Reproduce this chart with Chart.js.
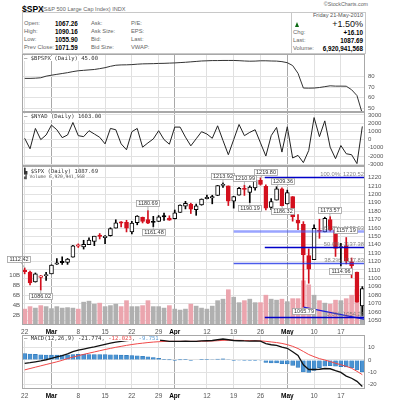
<!DOCTYPE html>
<html><head><meta charset="utf-8">
<script src="https://cdn.jsdelivr.net/npm/chart.js@4.4.1/dist/chart.umd.min.js"></script>
<style>
html,body{margin:0;padding:0;background:#fff}
body{width:393px;height:400px;position:relative;overflow:hidden;font-family:"Liberation Sans",Arial,sans-serif}
.pn{position:absolute;left:0;width:393px}
.tx{position:absolute;white-space:nowrap;line-height:1}
.lb{font-size:5.8px;color:#666}
.vb{font-size:6.3px;color:#000;font-weight:bold}
.lg{position:absolute;white-space:nowrap;line-height:1;font-family:"DejaVu Sans Mono",monospace;font-size:5.6px;color:#333;background:#fff;padding:0 1px;z-index:5}
</style></head><body>

<div class="tx" style="left:22px;top:5.3px;font-size:8.5px;font-weight:bold;color:#000">$SPX</div>
<div class="tx" style="left:42px;top:7.2px;font-size:5.6px;color:#666">(S&amp;P 500 Large Cap Index) INDX</div>
<div class="tx" style="right:25px;top:2.1px;font-size:5.3px;color:#666">©StockCharts.com</div>
<div style="position:absolute;left:22px;top:12px;width:344px;height:42px;border:1px solid #c8c8c8;box-sizing:border-box"></div>
<div style="position:absolute;left:291px;top:12px;width:1px;height:42px;background:#c8c8c8"></div>

<div class="tx lb" style="left:24px;top:20.8px">Open:</div>
<div class="tx lb" style="left:24px;top:29px">High:</div>
<div class="tx lb" style="left:24px;top:37px">Low:</div>
<div class="tx lb" style="left:24px;top:45.1px">Prev Close:</div>
<div class="tx vb" style="left:55px;top:20.5px">1067.26</div>
<div class="tx vb" style="left:55px;top:28.7px">1090.16</div>
<div class="tx vb" style="left:55px;top:36.7px">1055.90</div>
<div class="tx vb" style="left:55px;top:44.8px">1071.59</div>
<div class="tx lb" style="left:91px;top:20.8px">Ask:</div>
<div class="tx lb" style="left:91px;top:29px">Ask Size:</div>
<div class="tx lb" style="left:91px;top:37px">Bid:</div>
<div class="tx lb" style="left:91px;top:45.1px">Bid Size:</div>
<div class="tx lb" style="left:131px;top:20.8px">P/E:</div>
<div class="tx lb" style="left:131px;top:29px">EPS:</div>
<div class="tx lb" style="left:131px;top:37px">Last:</div>
<div class="tx lb" style="left:131px;top:45.1px">VWAP:</div>

<div class="tx" style="right:30px;top:12.6px;font-size:5.6px;color:#555">Friday 21-May-2010</div>
<div style="position:absolute;left:295px;top:21.5px;width:0;height:0;border-left:2.6px solid transparent;border-right:2.6px solid transparent;border-bottom:5px solid #0b6a12"></div>
<div class="tx" style="right:30px;top:19.5px;font-size:9px;color:#111">+1.50%</div>
<div class="tx lb" style="left:293px;top:29.8px">Chg:</div>
<div class="tx vb" style="right:30px;top:29.5px">+16.10</div>
<div class="tx lb" style="left:293px;top:37.8px">Last:</div>
<div class="tx vb" style="right:30px;top:37.5px">1087.69</div>
<div class="tx lb" style="left:293px;top:46.3px">Volume:</div>
<div class="tx vb" style="right:30px;top:46px">6,920,941,568</div>

<div class="pn" style="top:54px;height:58px"><canvas id="c1"></canvas></div>
<div class="pn" style="top:112px;height:54px"><canvas id="c2"></canvas></div>
<div class="pn" style="top:166px;height:170px"><canvas id="c3"></canvas></div>
<div class="pn" style="top:335px;height:65px"><canvas id="c4"></canvas></div>

<div class="lg" style="left:23px;top:55.5px">— $BPSPX (Daily) 45.00</div>
<div class="lg" style="left:23px;top:114.3px">— $NYAD (Daily) 1603.00</div>
<div class="lg" style="left:23px;top:168.6px">▙ $SPX (Daily) 1087.69</div>
<div class="lg" style="left:23px;top:175px;font-size:4.6px;color:#555">▟ Volume 6,920,941,568</div>
<div class="lg" style="left:23px;top:335.6px">— MACD(12,26,9) -21.774, <span style="color:#e84545">-12.023</span>, <span style="color:#5b9bd5">-9.751</span></div>

<script>
// ---------------- DATA ----------------
const dates = ['2010-02-22','2010-02-23','2010-02-24','2010-02-25','2010-02-26',
'2010-03-01','2010-03-02','2010-03-03','2010-03-04','2010-03-05',
'2010-03-08','2010-03-09','2010-03-10','2010-03-11','2010-03-12',
'2010-03-15','2010-03-16','2010-03-17','2010-03-18','2010-03-19',
'2010-03-22','2010-03-23','2010-03-24','2010-03-25','2010-03-26',
'2010-03-29','2010-03-30','2010-03-31','2010-04-01',
'2010-04-05','2010-04-06','2010-04-07','2010-04-08','2010-04-09',
'2010-04-12','2010-04-13','2010-04-14','2010-04-15','2010-04-16',
'2010-04-19','2010-04-20','2010-04-21','2010-04-22','2010-04-23',
'2010-04-26','2010-04-27','2010-04-28','2010-04-29','2010-04-30',
'2010-05-03','2010-05-04','2010-05-05','2010-05-06','2010-05-07',
'2010-05-10','2010-05-11','2010-05-12','2010-05-13','2010-05-14',
'2010-05-17','2010-05-18','2010-05-19','2010-05-20','2010-05-21'];

const open  = [1110.00,1107.49,1095.89,1101.24,1103.10,1105.36,1117.01,1119.36,1119.12,1125.12,
1138.40,1137.56,1140.22,1143.96,1151.71,1148.53,1150.83,1159.94,1166.13,1166.68,
1155.35,1166.47,1172.70,1170.03,1167.58,1167.71,1173.75,1171.75,1171.23,1178.71,
1186.01,1188.23,1181.75,1187.47,1194.94,1195.94,1198.69,1210.77,1210.17,1192.06,
1199.04,1207.16,1202.52,1207.87,1217.07,1209.72,1184.59,1193.30,1206.77,1188.58,
1197.50,1169.24,1164.38,1127.04,1122.27,1156.39,1155.43,1170.04,1157.19,1136.52,
1138.78,1119.57,1107.34,1067.26];
const high  = [1112.42,1108.58,1106.42,1103.50,1107.24,1116.11,1123.46,1125.64,1123.73,1139.38,
1141.05,1145.37,1148.26,1150.24,1153.41,1150.98,1160.28,1169.84,1167.77,1169.20,
1167.82,1174.72,1173.04,1180.69,1173.93,1174.85,1177.83,1174.56,1181.43,1187.73,
1191.80,1189.60,1188.55,1194.66,1199.20,1199.04,1210.65,1213.92,1210.17,1197.87,
1208.58,1210.99,1210.27,1217.28,1219.80,1211.38,1195.05,1209.36,1207.99,1205.13,
1197.50,1175.95,1167.58,1135.13,1163.85,1170.48,1172.87,1173.57,1157.19,1141.88,
1148.66,1124.27,1107.34,1090.16];
const low   = [1105.38,1092.18,1095.50,1086.02,1097.56,1105.36,1116.51,1116.58,1116.66,1125.12,
1136.77,1134.90,1140.09,1138.99,1146.97,1141.45,1150.35,1159.94,1161.16,1155.33,
1152.88,1163.83,1166.01,1165.09,1161.48,1167.71,1168.92,1169.15,1170.69,1178.71,
1182.77,1177.25,1175.12,1187.15,1194.71,1188.82,1198.69,1208.50,1186.77,1183.68,
1199.04,1198.85,1190.19,1205.10,1211.07,1181.62,1181.81,1193.30,1186.32,1188.58,
1168.12,1158.15,1065.79,1094.15,1122.27,1147.71,1155.43,1156.14,1126.14,1114.96,
1117.20,1100.66,1071.58,1055.90];
const close = [1108.01,1094.60,1105.24,1102.93,1104.49,1115.71,1118.31,1118.79,1122.97,1138.70,
1138.50,1140.45,1145.61,1150.24,1149.99,1150.51,1159.46,1166.21,1165.83,1159.90,
1165.81,1174.17,1167.72,1165.73,1166.59,1173.22,1173.27,1169.43,1178.10,1187.44,
1189.44,1182.45,1186.44,1194.37,1196.48,1197.30,1210.65,1211.67,1192.13,1197.52,
1207.17,1205.94,1208.67,1217.28,1212.05,1183.71,1191.36,1206.78,1186.69,1202.26,
1173.60,1165.87,1128.15,1110.88,1159.73,1155.79,1171.67,1157.44,1135.68,1136.94,
1120.80,1115.05,1071.59,1087.69];
// volume, billions of shares
const volumeB = [3.2,3.7,3.4,3.9,3.7,3.3,3.7,3.4,3.5,3.4,3.2,4.6,4.8,4.2,4.4,3.7,3.9,4.2,3.7,4.9,
3.7,3.7,3.9,4.9,3.7,3.7,3.4,3.9,3.2,3.0,3.2,4.2,3.8,3.4,3.2,3.8,4.9,5.2,7.1,5.6,
4.5,4.9,5.2,4.5,4.5,6.0,5.2,5.0,5.2,4.7,5.3,5.3,8.9,8.1,6.0,4.9,4.4,4.2,5.0,4.9,
5.3,6.0,7.1,6.92];
const bpspx = [78.2,78.2,78.4,78.8,80.3,81.2,82.0,82.8,83.6,84.6,85.4,85.8,86.2,86.6,87.4,88.3,
89.6,90.6,90.9,91.0,91.2,91.6,91.9,92.0,92.1,92.3,92.4,92.6,92.8,93.1,93.4,93.8,94.2,94.6,
94.8,95.0,95.0,95.1,95.1,95.1,94.9,94.6,94.4,94.5,94.8,94.8,94.6,94.5,94.0,93.0,90.3,83.0,
69.1,69.0,69.1,69.6,70.4,71.2,70.9,70.9,70.8,67.5,62.0,45.0];
const nyad = [160,-1120,1360,0,560,1760,1200,240,560,2080,480,360,1080,680,280,-520,1360,1200,
-520,-1240,960,1360,-920,-400,80,1080,0,-560,1520,1520,300,-760,100,960,680,160,1680,-100,
-1840,0,1840,480,880,1200,-400,-2000,480,1480,-1520,1560,-2240,-1920,-2800,-1320,2680,360,
2280,-920,-2320,-720,-1720,-1840,-2920,1603];
const macd = [-2.7,-2.2,-1.5,-0.8,0.2,1.4,2.5,3.6,5.0,6.8,8.0,9.0,10.0,10.8,11.8,12.8,13.8,14.6,
15.3,15.8,16.4,17.0,17.3,17.2,16.8,16.3,15.8,15.3,15.2,15.3,15.4,15.2,15.3,15.6,15.8,16.0,
16.6,17.2,16.6,16.0,15.8,15.6,15.5,15.6,15.4,13.4,12.5,12.0,10.6,9.6,6.8,3.8,-4.0,-7.8,-7.8,
-7.6,-7.0,-7.2,-8.8,-10.2,-13.2,-15.0,-17.5,-21.774];
const macdSignal = [-8.1,-7.0,-5.9,-4.8,-3.7,-2.6,-1.5,-0.3,1.2,2.4,3.5,4.6,5.6,6.6,7.6,8.6,9.5,
10.4,11.2,12.0,12.7,13.3,13.8,14.3,14.7,15.0,15.2,15.3,15.3,15.3,15.3,15.3,15.3,15.4,15.5,
15.6,15.8,16.1,16.2,16.2,16.1,16.0,15.9,15.8,15.7,15.3,14.8,14.3,13.6,12.6,11.2,9.4,7.0,4.5,
2.7,1.1,0.0,-1.3,-2.7,-3.9,-5.2,-6.8,-9.3,-12.023];
const macdHist = [5.2,4.9,4.6,4.2,4.1,4.0,4.0,4.0,4.2,4.5,4.6,4.6,4.5,4.4,4.4,4.4,4.3,4.2,4.0,
3.8,3.6,3.4,3.1,2.6,2.0,1.3,0.6,0.1,-0.1,0.1,0.2,-0.2,0.0,0.2,0.3,0.4,0.8,1.0,0.4,-0.3,-0.4,
-0.5,-0.5,-0.3,-0.4,-2.0,-2.4,-2.5,-3.0,-3.2,-4.4,-6.0,-9.8,-10.2,-8.6,-6.2,-5.0,-4.6,-5.0,
-5.4,-5.6,-6.4,-8.2,-9.751];

const xTickIndex = [0,5,10,15,20,25,28,34,39,44,49,54,59];
const xTickText  = ['22','Mar','8','15','22','29','Apr','12','19','26','May','10','17'];
const monthNames = ['Mar','Apr','May'];
const priceTicks = [1050,1060,1070,1080,1090,1100,1110,1120,1130,1140,1150,1160,1170,1180,1190,1200,1210,1220];
const volTicks = [2,4,6,8,10];
const bpTicks = [50,60,70,80];
const nyadTicks = [-3000,-2000,-1000,0,1000,2000,3000];
const macdTicks = [-20,-10,0,10];

// Fibonacci retracement levels and marked highs/lows
const fibPct   = ['100.0%','61.8%','50.0%','38.2%','0.0%'];
const fibValue = [1220.52,1155.93,1137.38,1117.83,1054.24];
const markIndex = [0,3,23,24,37,41,42,44,47,48,52,57,58,59];
const markKind  = ['h','l','h','l','h','h','l','h','h','l','l','h','h','l'];
const trendFrom = [52,1065.79];
const trendTo   = [63.6,1051.0];

// ---------------- LAYOUT / STYLE ----------------
const FONT = '"Liberation Sans", Arial, sans-serif';
const RED = '#d3101e';
const tickMap = new Map(xTickIndex.map((v,i)=>[v,xTickText[i]]));
const monthSet = new Set(xTickIndex.filter((v,i)=>monthNames.includes(xTickText[i])));
const fibStart = [44.8,39,44.8,39,44.8];
const fibStyle = [['#0000c8',1.4],['rgba(70,90,255,0.55)',2.6],['#0000c8',1.4],['rgba(30,50,230,0.8)',1.4],['#0000c8',1.4]];
const markOffset = [[-6,-9],[0,6],[0,-8],[0,5],[0,-7],[0,-7],[0,5],[5,-6],[6,-6],[1,5],[0,4],[-1,-7],[10,0],[0,5]];

function xScale(show){
  return {
    type:'category', offset:true,
    grid:{offset:false, drawTicks:false, lineWidth:1,
      color:c=> monthSet.has(c.index) ? '#a8a8a8' : (tickMap.has(c.index) ? '#e0e0e0' : 'rgba(0,0,0,0)')},
    border:{display:false},
    ticks:{display:show, autoSkip:false, maxRotation:0, minRotation:0, padding:3,
      color:c=> monthSet.has(c.index) ? '#000' : '#555',
      font:c=>({family:FONT, size:6.5, weight: monthSet.has(c.index)?'bold':'normal'}),
      callback:(v,i)=> tickMap.has(i) ? tickMap.get(i) : ''},
    afterFit:s=>{ s.height = show ? 11 : 0; s.paddingLeft = 0; s.paddingRight = 0; }
  };
}
function yRight(min,max,ticks,fmt){
  return {
    position:'right', min, max,
    afterBuildTicks:s=>{ s.ticks = ticks.map(v=>({value:v})); },
    grid:{drawTicks:false, color:'#e2e2e2', lineWidth:1},
    border:{display:false},
    ticks:{autoSkip:false, padding:3, color:'#555', font:{family:FONT, size:6}, callback:fmt},
    afterFit:s=>{ s.width = 28; s.paddingTop = 0; s.paddingBottom = 0; }
  };
}
const frame = {id:'frame', afterDraw(ch){
  const a = ch.chartArea, c = ch.ctx;
  c.save(); c.strokeStyle = '#a8a8a8'; c.lineWidth = 1;
  c.strokeRect(Math.round(a.left)+0.5, Math.round(a.top)+0.5, Math.round(a.right-a.left)-1, Math.round(a.bottom-a.top)-1);
  c.restore();
}};
function base(leftPad){
  return {
    responsive:true, maintainAspectRatio:false, animation:false, events:[],
    layout:{padding:{left:leftPad, right:0, top:0, bottom:0}},
    plugins:{legend:{display:false}, tooltip:{enabled:false}}
  };
}
const lineDs = (data,color,w)=>({type:'line', data, borderColor:color, borderWidth:w, pointRadius:0, tension:0, fill:false});

// Panel 1: $BPSPX
new Chart(document.getElementById('c1'), {
  data:{labels:dates, datasets:[lineDs(bpspx,'#333',1)]},
  options:Object.assign(base(22), {scales:{x:xScale(false), y:yRight(46.5,101.2,bpTicks,v=>String(v))}}),
  plugins:[frame]
});
// Panel 2: $NYAD
new Chart(document.getElementById('c2'), {
  data:{labels:dates, datasets:[lineDs(nyad,'#222',1)]},
  options:Object.assign(base(22), {scales:{x:xScale(false), y:yRight(-3212,3358,nyadTicks,v=>String(v))}}),
  plugins:[frame]
});

// Panel 3: candles + volume
const candleCol = dates.map((d,i)=> close[i] >= (i ? close[i-1] : open[0]) ? '#000' : RED);
const filled = dates.map((d,i)=> close[i] < open[i]);
const volCol = dates.map((d,i)=> candleCol[i] === RED ? '#eba5ae' : '#b0b0b0');

const priceAnn = {id:'priceAnn', afterDatasetsDraw(ch){
  const {ctx, chartArea:a, scales:{x, y}} = ch;
  ctx.save();
  ctx.beginPath(); ctx.rect(a.left, a.top, a.right-a.left, a.bottom-a.top); ctx.clip();
  // trend line from the May 6 low
  ctx.strokeStyle = '#1c1ce0'; ctx.lineWidth = 1.2;
  ctx.beginPath(); ctx.moveTo(x.getPixelForValue(trendFrom[0]), y.getPixelForValue(trendFrom[1]));
  ctx.lineTo(x.getPixelForValue(trendTo[0]), y.getPixelForValue(trendTo[1])); ctx.stroke();
  // fibonacci lines + labels
  ctx.font = '5.8px ' + FONT; ctx.textAlign = 'right'; ctx.textBaseline = 'alphabetic';
  fibValue.forEach((v,i)=>{
    const py = Math.round(y.getPixelForValue(v)) + 0.5;
    ctx.strokeStyle = fibStyle[i][0]; ctx.lineWidth = fibStyle[i][1];
    ctx.beginPath(); ctx.moveTo(x.getPixelForValue(fibStart[i]), py); ctx.lineTo(a.right, py); ctx.stroke();
    ctx.fillStyle = 'rgba(110,110,110,0.85)';
    ctx.fillText(fibPct[i] + ': ' + v.toFixed(2), a.right - 1, py - 1.2);
  });
  ctx.restore();
  // value boxes (may reach outside the plot area)
  ctx.save();
  ctx.font = '5.5px ' + FONT; ctx.textAlign = 'center'; ctx.textBaseline = 'middle';
  markIndex.forEach((idx,k)=>{
    const v = markKind[k] === 'h' ? high[idx] : low[idx];
    const ax = x.getPixelForValue(idx), ay = y.getPixelForValue(v);
    const bx = ax + markOffset[k][0], by = ay + markOffset[k][1];
    const t = v.toFixed(2), w = Math.ceil(ctx.measureText(t).width) + 3, h = 6;
    ctx.strokeStyle = '#a0a0a0'; ctx.lineWidth = 0.8;
    ctx.beginPath(); ctx.moveTo(ax, ay); ctx.lineTo(bx, by); ctx.stroke();
    const l = Math.round(bx - w/2) + 0.5, tp = Math.round(by - h/2) + 0.5;
    ctx.fillStyle = '#fff'; ctx.fillRect(l, tp, w, h);
    ctx.strokeRect(l, tp, w, h);
    ctx.fillStyle = '#333'; ctx.fillText(t, l + w/2, tp + h/2 + 0.3);
  });
  ctx.restore();
}};

new Chart(document.getElementById('c3'), {
  data:{labels:dates, datasets:[
    {type:'bar', data:volumeB, yAxisID:'yv', backgroundColor:volCol, barThickness:4, grouped:false, order:3},
    {type:'bar', data:dates.map((d,i)=>[low[i],high[i]]), yAxisID:'y', backgroundColor:candleCol, barThickness:1, grouped:false, order:2},
    {type:'bar', data:dates.map((d,i)=>[open[i],close[i]]), yAxisID:'y',
      backgroundColor:dates.map((d,i)=> filled[i] ? candleCol[i] : '#fff'),
      borderColor:candleCol, borderWidth:1, borderSkipped:false, minBarLength:1.2, barThickness:4, grouped:false, order:1}
  ]},
  options:Object.assign(base(0), {scales:{
    x:xScale(true),
    y:yRight(1044.4,1233.9,priceTicks,v=>String(v)),
    yv:{position:'left', min:0, max:32,
      afterBuildTicks:s=>{ s.ticks = volTicks.map(v=>({value:v})); },
      grid:{display:false, drawTicks:false, tickLength:0}, border:{display:false},
      ticks:{autoSkip:false, padding:2, color:'#555', font:{family:FONT, size:6}, callback:v=>v+'B'},
      afterFit:s=>{ s.width = 22; s.paddingTop = 0; s.paddingBottom = 0; }}
  }}),
  plugins:[frame, priceAnn]
});

// Panel 4: MACD
new Chart(document.getElementById('c4'), {
  data:{labels:dates, datasets:[
    {type:'bar', data:macdHist, backgroundColor:'#4a93d2', borderColor:'#2f78bb', borderWidth:0.6, barThickness:4, grouped:false, order:3},
    Object.assign(lineDs(macdSignal,'#f04848',1), {order:2}),
    Object.assign(lineDs(macd,'#111',1.3), {order:1})
  ]},
  options:Object.assign(base(22), {scales:{x:xScale(true), y:yRight(-23.8,20.5,macdTicks,v=>String(v))}}),
  plugins:[frame]
});
</script>
</body></html>
